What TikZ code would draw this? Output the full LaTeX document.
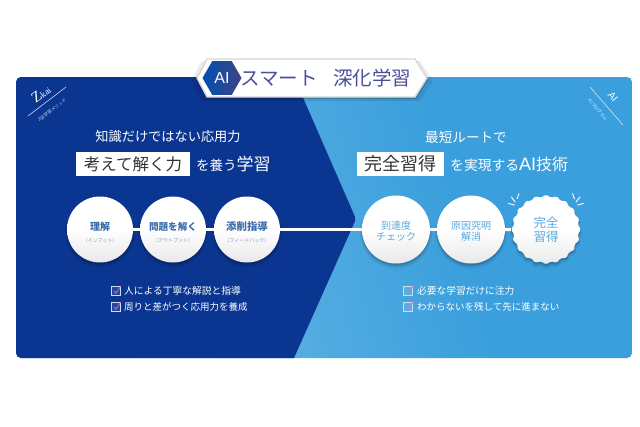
\documentclass[tikz,border=0pt]{standalone}
\usepackage{fontspec}
\setmainfont{Noto Sans CJK JP}
\newfontfamily\latinserif{Liberation Serif}
\newfontfamily\latinsans{Liberation Sans}
\usetikzlibrary{shapes.geometric,shadows,calc}
\definecolor{navy}{HTML}{0A3591}
\definecolor{skyD}{HTML}{3A9FDC}
\definecolor{skyL}{HTML}{6DB9E8}
\definecolor{titlec}{HTML}{4A4F9A}
\definecolor{leftc}{HTML}{3A6CA8}
\definecolor{leftsub}{HTML}{7F9CC4}
\definecolor{rightc}{HTML}{5AA9DE}
\definecolor{inkc}{HTML}{333333}
\definecolor{checkc}{HTML}{E86AAA}
\pgfdeclarehorizontalshading{skyramp}{100bp}{color(0bp)=(skyL); color(28bp)=(skyL); color(62bp)=(skyD); color(100bp)=(skyD)}
\newcommand{\fsz}[1]{\fontsize{#1}{#1}\selectfont}
\newcommand{\chk}[3]{%
  \node[checkbox] (#1) at (#2,#3) {};
  \draw[checkc,line width=.7pt,line cap=round,line join=round]
    ($(#1.center)+(-2,0)$) -- ($(#1.center)+(0,2.4)$) -- ($(#1.center)+(4.8,-5)$);
}
\tikzset{
  softshadow/.style={
    drop shadow={opacity=.08,shadow xshift=0pt,shadow yshift=-3pt,shadow scale=1.05,fill=black},
    drop shadow={opacity=.16,shadow xshift=0pt,shadow yshift=-2pt,shadow scale=1.01,fill=black}},
  ball/.style={circle,minimum size=#1,inner sep=0pt,align=center,softshadow,
    top color=white,bottom color=black!9,middle color=white},
  link/.style={white,line width=3pt},
  headline/.style={white,inner sep=0pt},
  tagbox/.style={fill=white,minimum height=24,inner sep=0pt,text=inkc},
  checkbox/.style={draw=white!70!skyD,fill=white,fill opacity=.10,draw opacity=1,minimum size=8.5,inner sep=0pt,line width=.7pt},
  itemtext/.style={white,anchor=west,inner sep=0pt},
  spark/.style={white,line width=.9pt,line cap=round},
  thinrule/.style={white!85!skyD,line width=.5pt}
}
\begin{document}
\begin{tikzpicture}[x=1pt,y=-1pt]
\useasboundingbox (0,0) rectangle (640,426);
\fill[white] (0,0) rectangle (640,426);
% panels
\begin{scope}
  \clip[rounded corners=5pt] (16,77) rectangle (632,358);
  \shade[shading=skyramp,shading angle=15] (16,77) rectangle (632,358);
  \fill[navy] (16,77) -- (294,77) [rounded corners=3pt] -- (356,219) [sharp corners] -- (294,358) -- (16,358) -- cycle;
\end{scope}
% corner marks
\coordinate (za) at (28,116); \coordinate (zb) at (66,87);
\draw[thinrule] (za) -- (zb);
\node[white,rotate=37,inner sep=0pt] (zkai) at (41,94) {\latinserif\fsz{15}Z\fsz{9}kai};
\node[white!80!navy,rotate=37,inner sep=0pt] (zsub) at (52,110) {\fsz{4.5}Z会学習メソッド};
\coordinate (aa) at (590,87); \coordinate (ab) at (623,125);
\draw[thinrule] (aa) -- (ab);
\node[white,rotate=-50,inner sep=0pt] (aimark) at (613,97) {\latinsans\fsz{10}AI};
\node[white!85!skyD,rotate=-50,inner sep=0pt] (aisub) at (598,110) {\fsz{4.5}AIプログラム};
% banner
\fill[white,draw=black!16,line width=1.4pt,line join=round,softshadow]
  (197,78) -- (207,59) -- (415,59) -- (427,78) -- (415,97) -- (207,97) -- cycle;
\node[regular polygon,regular polygon sides=6,minimum size=39,inner sep=0pt,
  left color=blue!55!cyan!70!black,right color=titlec!85!black,white] (ailogo) at (222,78)
  {\latinsans\fsz{16}AI};
\node[titlec,anchor=west,inner sep=0pt] (smart) at (240,78) {\fsz{19.5}スマート};
\node[titlec,anchor=west,inner sep=0pt] (deep) at (333,78) {\fsz{19.5}深化学習};
% left headings
\node[headline] (h1) at (168,137) {\fsz{13.2}知識だけではない応用力};
\node[tagbox,minimum width=114] (t1) at (133,164) {\fsz{16.5}考えて解く力};
\node[headline,anchor=west] (t1a) at (196,164) {\fsz{13.5}を養う\fsz{17}学習};
% right headings
\node[headline] (h2) at (466,137) {\fsz{13.6}最短ルートで};
\node[tagbox,minimum width=87] (t2) at (400.5,164) {\fsz{18}完全習得};
\node[headline,anchor=west] (t2a) at (450,164) {\fsz{13.8}を実現する{\latinsans\fsz{18}AI}\fsz{16}技術};
% steps
\node[ball=66] (c1) at (100,229.5) {\rule{0pt}{15pt}\bfseries\fsz{10}\textcolor{leftc}{理解}\\[0pt]\fsz{5}\textcolor{leftsub}{（インプット）}};
\node[ball=66] (c2) at (173,229.5) {\rule{0pt}{15pt}\bfseries\fsz{9.6}\textcolor{leftc}{問題を解く}\\[0pt]\fsz{5}\textcolor{leftsub}{（アウトプット）}};
\node[ball=66] (c3) at (247,229.5) {\rule{0pt}{15pt}\bfseries\fsz{10.4}\textcolor{leftc}{添削指導}\\[0pt]\fsz{5}\textcolor{leftsub}{（フィードバック）}};
\node[ball=68,text=rightc] (c4) at (396,229.5) {\rule{0pt}{12pt}\fsz{10}到達度\\[-1pt]\fsz{10}チェック};
\node[ball=68,text=rightc] (c5) at (471,229.5) {\rule{0pt}{12pt}\fsz{10}原因究明\\[-1pt]\fsz{10}解消};
\node[star,star points=20,star point ratio=1.09,minimum size=70,inner sep=0pt,align=center,text=rightc,
  rounded corners=1.5pt,softshadow,top color=white,bottom color=black!8,middle color=white] (c6) at (546,229.5)
  {\fsz{12.5}完全\\[2pt]\fsz{12.5}習得};
\draw[link] (c1) -- (c2);
\draw[link] (c2) -- (c3);
\draw[link] (c3) -- (c4);
\draw[link] (c4) -- (c5);
\draw[link] (c5) -- (c6);
% sparkles
\coordinate (s1a) at (508.5,203.5); \coordinate (s1b) at (514.5,205);
\coordinate (s2a) at (511.5,197); \coordinate (s2b) at (515,202);
\coordinate (s3a) at (519,193.5); \coordinate (s3b) at (517,199);
\coordinate (s4a) at (572.5,193.5); \coordinate (s4b) at (574.5,199);
\coordinate (s5a) at (580,197); \coordinate (s5b) at (576,202);
\coordinate (s6a) at (583.5,203.5); \coordinate (s6b) at (577.5,205);
\draw[spark] (s1a) -- (s1b); \draw[spark] (s2a) -- (s2b); \draw[spark] (s3a) -- (s3b);
\draw[spark] (s4a) -- (s4b); \draw[spark] (s5a) -- (s5b); \draw[spark] (s6a) -- (s6b);
% lists
\chk{b1}{116}{291}
\chk{b2}{116}{307}
\chk{b3}{408}{291}
\chk{b4}{408}{307}
\node[itemtext] (l1) at (124,291) {\fsz{9.75}人による丁寧な解説と指導};
\node[itemtext] (l2) at (124,307) {\fsz{9.5}周りと差がつく応用力を養成};
\node[itemtext] (r1) at (417,291) {\fsz{9.7}必要な学習だけに注力};
\node[itemtext] (r2) at (417,307) {\fsz{9.5}わからないを残して先に進まない};
\end{tikzpicture}
\end{document}
